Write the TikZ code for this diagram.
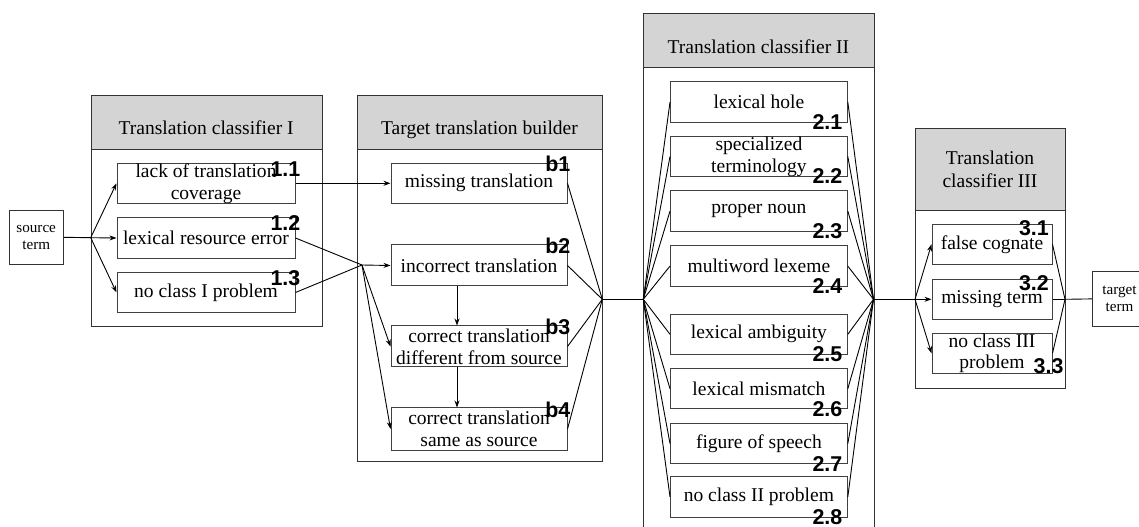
\documentclass[tikz,border=0pt]{standalone}
\usepackage{fontspec}
\setmainfont{Liberation Serif}
\newfontfamily\labfont{Liberation Sans}
\usetikzlibrary{arrows.meta}
\begin{document}
\begin{tikzpicture}[x=1bp,y=-1bp,
  ibox/.style={draw=black!75, line width=1bp, inner sep=0pt, align=center,
    font=\fontsize{19.6}{22}\selectfont},
  termbox/.style={draw=black!80, line width=1bp, inner sep=0pt, align=center,
    minimum width=54.3bp, minimum height=54.3bp, font=\fontsize{15.2}{17.5}\selectfont},
  cont/.style={draw=black!80, line width=1bp, inner sep=0pt, anchor=north west},
  hdr/.style={draw=black!80, fill=black!17, line width=1bp, inner sep=0pt, anchor=north west},
  htext/.style={font=\fontsize{19.6}{23.4}\selectfont, inner sep=0pt, align=center},
  lab/.style={font=\labfont\bfseries\fontsize{21.5}{21.5}\selectfont, inner sep=0pt, anchor=base east},
  conn/.style={line width=0.9bp},
  arr/.style={conn, -{Stealth[length=7bp,width=5bp]}}
]
\useasboundingbox (0,0) rectangle (1139,527);
\clip (0,0) rectangle (1139,527);

% containers
\node[cont, minimum width=231bp, minimum height=231bp] (cI) at (90.7,95) {};
\node[hdr, minimum width=231bp, minimum height=54bp] (cIh) at (90.7,95) {};
\node[htext, anchor=base] (tI) at (206.2,134.5) {Translation classifier I};

\node[cont, minimum width=245.6bp, minimum height=366bp] (cB) at (356.7,95) {};
\node[hdr, minimum width=245.6bp, minimum height=54.3bp] (cBh) at (356.7,95) {};
\node[htext, anchor=base] (tB) at (479.5,135) {Target translation builder};

\node[cont, minimum width=230.2bp, minimum height=540bp] (cII) at (643.3,13.5) {};
\node[hdr, minimum width=230.2bp, minimum height=53.9bp] (cIIh) at (643.3,13.5) {};
\node[htext, anchor=base] (tII) at (758.4,54) {Translation classifier II};

\node[cont, minimum width=150bp, minimum height=260bp] (cIII) at (915,128.3) {};
\node[hdr, minimum width=150bp, minimum height=81.7bp] (cIIIh) at (915,128.3) {};
\node[htext] (tIII) at (990,169.4) {Translation\\classifier III};

% end boxes
\node[termbox] (src) at (36.2,237.3) {source\\term};
\node[termbox] (tgt) at (1119.5,298.9) {target\\term};

% classifier I
\node[ibox, minimum width=178bp, minimum height=40bp] (c11) at (206,183.3) {lack of translation\\coverage};
\node[ibox, minimum width=178bp, minimum height=40.6bp] (c12) at (206,238) {lexical resource error};
\node[ibox, minimum width=178bp, minimum height=40.4bp] (c13) at (206,292.5) {no class I problem};

% builder
\node[ibox, minimum width=176bp, minimum height=40bp] (b1) at (479,183.3) {missing translation};
\node[ibox, minimum width=176bp, minimum height=41bp] (b2) at (479,265.5) {incorrect translation};
\node[ibox, minimum width=176bp, minimum height=41bp] (b3) at (479,346.5) {correct translation\\different from source};
\node[ibox, minimum width=176bp, minimum height=42bp] (b4) at (479,429) {correct translation\\same as source};

% classifier II
\node[ibox, minimum width=176.8bp, minimum height=40.5bp] (d1) at (758.9,102.1) {lexical hole};
\node[ibox, minimum width=176.8bp, minimum height=40.5bp] (d2) at (758.9,156.5) {specialized\\terminology};
\node[ibox, minimum width=176.8bp, minimum height=40.5bp] (d3) at (758.9,211.1) {proper noun};
\node[ibox, minimum width=176.8bp, minimum height=40.5bp] (d4) at (758.9,266.1) {multiword lexeme};
\node[ibox, minimum width=176.8bp, minimum height=40.5bp] (d5) at (758.9,334.3) {lexical ambiguity};
\node[ibox, minimum width=176.8bp, minimum height=40.5bp] (d6) at (758.9,388.7) {lexical mismatch};
\node[ibox, minimum width=176.8bp, minimum height=40.5bp] (d7) at (758.9,443.6) {figure of speech};
\node[ibox, minimum width=176.8bp, minimum height=40.8bp] (d8) at (758.9,496.9) {no class II problem};

% classifier III
\node[ibox, minimum width=120bp, minimum height=40bp] (e1) at (992,244.3) {false cognate};
\node[ibox, minimum width=120bp, minimum height=40bp] (e2) at (992,299.3) {missing term};
\node[ibox, minimum width=120bp, minimum height=40bp] (e3) at (992,353.3) {no class III\\problem};

% junctions
\coordinate (s1) at (90.7,237.7);
\coordinate (m1) at (362,265);
\coordinate (m2) at (602.3,299.3);
\coordinate (m3) at (643.3,299.3);
\coordinate (m4) at (873.5,299.3);
\coordinate (m5) at (915,299.3);
\coordinate (m6) at (1065,299.3);

% connectors
\draw[conn] (src.east) -- (s1);
\foreach \t in {c11,c12,c13} \draw[arr] (s1) -- (\t.west);
\draw[arr] (c11.east) -- (b1.west);
\draw[conn] (c12.east) -- (m1);
\draw[conn] (c13.east) -- (m1);
\foreach \t in {b2,b3,b4} \draw[arr] (m1) -- (\t.west);
\draw[arr] ([xshift=-22bp]b2.south) -- ([xshift=-22bp]b3.north);
\draw[arr] ([xshift=-22bp]b3.south) -- ([xshift=-22bp]b4.north);
\foreach \t in {b1,b2,b3,b4} \draw[conn] (\t.east) -- (m2);
\draw[conn] (m2) -- (m3);
\foreach \t in {d1,d2,d3,d4,d5,d6,d7,d8} {
  \draw[conn] (m3) -- (\t.west);
  \draw[conn] (\t.east) -- (m4);
}
\draw[conn] (m4) -- (m5);
\foreach \t in {e1,e2,e3} {
  \draw[arr] (m5) -- (\t.west);
  \draw[conn] (\t.east) -- (m6);
}
\draw[conn] (m6) -- (tgt.west);

% labels
\node[lab] (l11) at (300.5,176.5) {1.1};
\node[lab] (l12) at (300.5,231) {1.2};
\node[lab] (l13) at (300.5,285.5) {1.3};
\node[lab] (lb1) at (570.5,172) {b1};
\node[lab] (lb2) at (570.5,253.5) {b2};
\node[lab] (lb3) at (570.5,334.5) {b3};
\node[lab] (lb4) at (570.5,417) {b4};
\node[lab] (l21) at (842.5,129.3) {2.1};
\node[lab] (l22) at (842.5,183.9) {2.2};
\node[lab] (l23) at (842.5,238.5) {2.3};
\node[lab] (l24) at (842.5,293.5) {2.4};
\node[lab] (l25) at (842.5,361.5) {2.5};
\node[lab] (l26) at (842.5,416.1) {2.6};
\node[lab] (l27) at (842.5,471) {2.7};
\node[lab] (l28) at (842.5,524.3) {2.8};
\node[lab] (l31) at (1049,236) {3.1};
\node[lab] (l32) at (1049,290.8) {3.2};
\node[lab] (l33) at (1063.7,373.3) {3.3};
\end{tikzpicture}
\end{document}
